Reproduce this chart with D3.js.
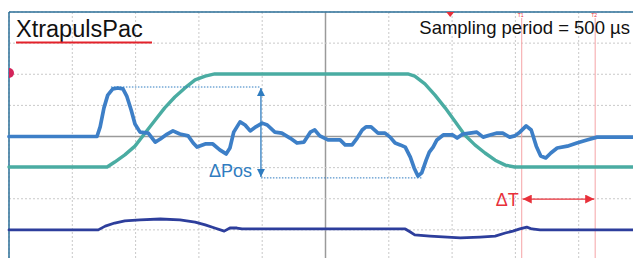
<!DOCTYPE html>
<html>
<head>
<meta charset="utf-8">
<script src="https://cdn.jsdelivr.net/npm/d3@7"></script>
<style>
  body { margin: 0; background: #fff; }
  svg { display: block; font-family: "Liberation Sans", Arial, sans-serif; }
</style>
</head>
<body>
<svg></svg>
<script>
// scope-like screen: 10 x 8 divisions, values in divisions
var xDivs = d3.range(0, 11);
var yDivs = d3.range(-4, 5);

// blue: position error
var errT = [0, 1.39, 1.44, 1.50, 1.56, 1.64, 1.72, 1.80, 1.86, 1.93, 1.99, 2.07, 2.20, 2.31, 2.39, 2.50, 2.59, 2.70, 2.83, 2.91, 2.97, 3.10, 3.22, 3.33, 3.43, 3.49, 3.55, 3.65, 3.73, 3.81, 3.90, 4.00, 4.08, 4.20, 4.31, 4.44, 4.55, 4.66, 4.76, 4.83, 4.91, 5.04, 5.23, 5.31, 5.42, 5.50, 5.58, 5.64, 5.72, 5.83, 5.94, 6.02, 6.10, 6.18, 6.26, 6.34, 6.40, 6.46, 6.52, 6.59, 6.64, 6.70, 6.76, 6.86, 7.01, 7.08, 7.17, 7.28, 7.39, 7.49, 7.60, 7.71, 7.80, 7.91, 7.99, 8.07, 8.17, 8.25, 8.33, 8.40, 8.48, 8.56, 8.66, 8.82, 8.97, 9.13, 9.29, 9.42, 9.86];
var errV = [0, 0, 0.31, 0.92, 1.33, 1.53, 1.56, 1.53, 1.30, 0.85, 0.40, 0.14, 0.11, -0.18, -0.08, 0.08, 0.18, 0.08, 0.02, -0.21, -0.34, -0.24, -0.24, -0.43, -0.56, -0.37, 0.14, 0.47, 0.37, 0.18, 0.31, 0.43, 0.37, 0.14, 0.11, -0.05, -0.21, -0.18, 0.14, 0.21, 0.02, -0.11, -0.11, -0.27, -0.27, -0.05, 0.21, 0.31, 0.31, 0.11, 0.11, -0.02, -0.21, -0.27, -0.34, -0.66, -1.01, -1.27, -1.17, -0.76, -0.50, -0.34, -0.11, 0.05, 0.05, -0.05, 0.08, 0.11, 0.14, -0.02, 0.05, 0.11, 0.11, -0.02, 0.02, 0.14, 0.34, 0.21, -0.31, -0.63, -0.69, -0.53, -0.37, -0.31, -0.21, -0.11, -0.02, -0.02, -0.02];

// teal: position profile
var posT = [0, 1.55, 1.67, 1.83, 1.99, 2.15, 2.31, 2.46, 2.62, 2.78, 2.94, 3.10, 3.25, 6.30, 6.41, 6.57, 6.73, 6.89, 7.05, 7.20, 7.36, 7.52, 7.68, 7.84, 7.99, 9.86];
var posV = [-0.98, -0.98, -0.82, -0.59, -0.31, 0.11, 0.53, 0.92, 1.27, 1.56, 1.82, 1.94, 2.01, 2.01, 1.94, 1.69, 1.33, 0.92, 0.47, 0.05, -0.27, -0.53, -0.76, -0.92, -0.98, -0.98];

// navy: current
var curT = [0, 1.41, 1.52, 1.67, 1.83, 2.07, 2.39, 2.70, 2.94, 3.10, 3.25, 3.40, 3.49, 3.60, 3.68, 4.91, 6.26, 6.34, 6.41, 6.65, 7.13, 7.44, 7.68, 7.84, 7.96, 8.07, 8.18, 8.26, 8.39, 9.86];
var curV = [-3.00, -3.00, -2.88, -2.78, -2.71, -2.68, -2.65, -2.68, -2.75, -2.84, -2.94, -3.04, -2.94, -2.94, -2.97, -2.97, -2.97, -3.07, -3.16, -3.20, -3.26, -3.23, -3.20, -3.10, -3.04, -2.97, -2.91, -2.97, -3.00, -3.00];

// cursors and annotations
var cursors = [{ name: "T1", t: 8.10 }, { name: "T2", t: 9.26 }];
var dPos = { t: 3.98, hi: 1.59, lo: -1.33, hiFrom: 1.61, loTo: 6.54 };
var dT = { level: -2.01 };
var trigT = 6.97;
var refLevel = 2.04;

var width = 633, height = 258;
var svg = d3.select("svg").attr("width", width).attr("height", height);

var x = d3.scaleLinear().domain([0, 10]).range([9, 642]);
var y = d3.scaleLinear().domain([-4, 4]).range([261, 12]);

var defs = svg.append("defs");
function marker(id, color, w, h) {
    defs.append("marker")
        .attr("id", id)
        .attr("viewBox", "0 0 10 10")
        .attr("refX", 10).attr("refY", 5)
        .attr("markerWidth", w).attr("markerHeight", h)
        .attr("markerUnits", "userSpaceOnUse")
        .attr("orient", "auto-start-reverse")
        .append("path")
        .attr("d", "M0,0L10,5L0,10z")
        .attr("fill", color);
}
marker("ablue", "#2f7cc0", 9, 8);
marker("ared", "#e8303a", 11, 9);

// grid
svg.append("g").selectAll("line").data(xDivs).join("line")
    .attr("x1", d => x(d)).attr("x2", d => x(d))
    .attr("y1", y(4)).attr("y2", height)
    .attr("stroke", d => d === 5 ? "#9a9a9a" : "#c9c9c9")
    .attr("stroke-width", d => d === 5 ? 1.5 : 1)
    .attr("stroke-dasharray", d => d === 5 ? null : "2,2");

svg.append("g").selectAll("line").data(yDivs).join("line")
    .attr("x1", x(0)).attr("x2", width)
    .attr("y1", d => y(d)).attr("y2", d => y(d))
    .attr("stroke", d => d === 0 ? "#9a9a9a" : "#c9c9c9")
    .attr("stroke-width", d => d === 0 ? 1.5 : 1)
    .attr("stroke-dasharray", d => d === 0 ? null : "2,2");

// cursors
svg.append("g").selectAll("line").data(cursors).join("line")
    .attr("x1", d => x(d.t)).attr("x2", d => x(d.t))
    .attr("y1", y(4) + 6).attr("y2", height)
    .attr("stroke", "#f5a3a6").attr("stroke-width", 1);
svg.append("g").selectAll("text").data(cursors).join("text")
    .attr("x", d => x(d.t) - 1).attr("y", y(4) + 5)
    .attr("text-anchor", "middle")
    .attr("font-size", 5).attr("fill", "#e8303a")
    .text(d => d.name);

// frame
svg.append("line").attr("x1", x(0)).attr("x2", width)
    .attr("y1", y(4)).attr("y2", y(4))
    .attr("stroke", "#2b6f98").attr("stroke-width", 1.5);
svg.append("line").attr("x1", x(0)).attr("x2", x(0))
    .attr("y1", y(4)).attr("y2", height)
    .attr("stroke", "#2b6f98").attr("stroke-width", 1.5);

// markers on the frame
svg.append("path")
    .attr("d", d3.arc()({ innerRadius: 0, outerRadius: 5, startAngle: 0, endAngle: Math.PI }))
    .attr("transform", "translate(" + x(0) + "," + y(refLevel) + ")")
    .attr("fill", "#d4245a");
svg.append("path")
    .attr("d", "M" + (x(trigT) - 4) + "," + y(4) + "l8,0l-4,5z")
    .attr("fill", "#e8303a");

// traces
var line = d3.line()
    .x(d => x(d[0]))
    .y(d => y(d[1]));

function trace(ts, vs, color, w) {
    svg.append("path")
        .datum(d3.zip(ts, vs))
        .attr("d", line)
        .attr("fill", "none")
        .attr("stroke", color)
        .attr("stroke-width", w)
        .attr("stroke-linejoin", "round")
        .attr("stroke-linecap", "round");
}
trace(curT, curV, "#2d3e9c", 2.8);
trace(posT, posV, "#4aaca2", 3.4);
trace(errT, errV, "#3d7fc7", 3.7);

// delta pos annotation
svg.append("line")
    .attr("x1", x(dPos.hiFrom)).attr("x2", x(dPos.t))
    .attr("y1", y(dPos.hi)).attr("y2", y(dPos.hi))
    .attr("stroke", "#2f7cc0").attr("stroke-width", 1).attr("stroke-dasharray", "1.5,1.5");
svg.append("line")
    .attr("x1", x(dPos.t)).attr("x2", x(dPos.loTo))
    .attr("y1", y(dPos.lo)).attr("y2", y(dPos.lo))
    .attr("stroke", "#2f7cc0").attr("stroke-width", 1).attr("stroke-dasharray", "1.5,1.5");
svg.append("line")
    .attr("x1", x(dPos.t)).attr("x2", x(dPos.t))
    .attr("y1", y(dPos.hi) + 1).attr("y2", y(dPos.lo) - 1)
    .attr("stroke", "#2f7cc0").attr("stroke-width", 1.3)
    .attr("marker-start", "url(#ablue)").attr("marker-end", "url(#ablue)");
svg.append("text")
    .attr("x", x(dPos.t) - 9).attr("y", y(dPos.lo) - 1)
    .attr("text-anchor", "end")
    .attr("font-size", 18).attr("fill", "#2f7cc0")
    .text("ΔPos");

// delta T annotation
svg.append("line")
    .attr("x1", x(cursors[0].t) + 1).attr("x2", x(cursors[1].t) - 1)
    .attr("y1", y(dT.level)).attr("y2", y(dT.level))
    .attr("stroke", "#e8303a").attr("stroke-width", 1.3)
    .attr("marker-start", "url(#ared)").attr("marker-end", "url(#ared)");
svg.append("text")
    .attr("x", x(cursors[0].t) - 3).attr("y", y(dT.level) + 7)
    .attr("text-anchor", "end")
    .attr("font-size", 18).attr("fill", "#e8303a")
    .text("ΔT");

// titles
svg.append("text")
    .attr("x", 16).attr("y", 37)
    .attr("font-size", 23.5).attr("fill", "#111")
    .text("XtrapulsPac");
svg.append("line")
    .attr("x1", 16).attr("x2", 152).attr("y1", 42.5).attr("y2", 42.5)
    .attr("stroke", "#e3222b").attr("stroke-width", 2.2);
svg.append("text")
    .attr("x", 630).attr("y", 34)
    .attr("text-anchor", "end")
    .attr("font-size", 18.5).attr("fill", "#111")
    .text("Sampling period = 500 µs");
</script>
</body>
</html>
